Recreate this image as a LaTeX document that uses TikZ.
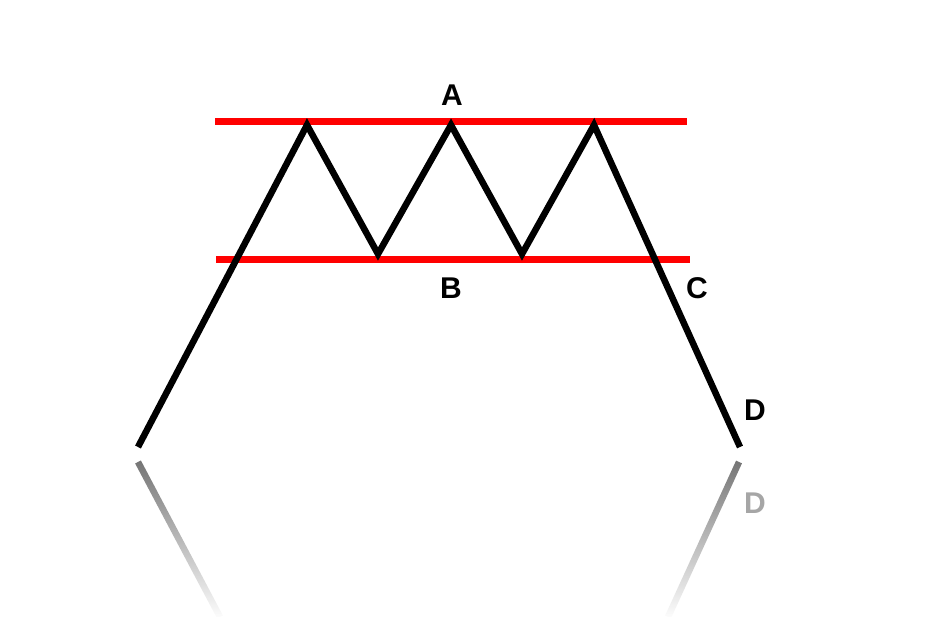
\documentclass[tikz,border=0pt]{standalone}
\usepackage{fontspec}
\setmainfont{Liberation Sans}
\usetikzlibrary{fadings}
\begin{document}
\begin{tikzpicture}[x=1pt,y=-1pt,
  level/.style={draw=red, line width=7pt},
  price/.style={draw=black, line width=6.5pt, line join=miter},
  mirror/.style={draw=black!55, line width=6.5pt, path fading=south},
  lbl/.style={font=\fontsize{30}{30}\selectfont\bfseries, inner sep=0pt}]
\useasboundingbox (0,0) rectangle (937,617);
% level lines
\coordinate (r1) at (215,122); \coordinate (r2) at (687,122);
\coordinate (r3) at (216,260); \coordinate (r4) at (690,260);
\draw[level] (r1) -- (r2);
\draw[level] (r3) -- (r4);
% price path
\coordinate (p0) at (138,447);
\coordinate (p1) at (307,125);
\coordinate (p2) at (378,254);
\coordinate (p3) at (451,125);
\coordinate (p4) at (522,254);
\coordinate (p5) at (594,125);
\coordinate (p6) at (740,447);
\draw[price] (p0) -- (p1) -- (p2) -- (p3) -- (p4) -- (p5) -- (p6);
% reflection
\coordinate (m0) at (138,462); \coordinate (m1) at (220,617);
\coordinate (m2) at (739,462); \coordinate (m3) at (668,617);
\draw[mirror] (m0) -- (m1);
\draw[mirror] (m2) -- (m3);
% labels
\node[lbl] (A) at (452,95) {A};
\node[lbl] (B) at (451,288) {B};
\node[lbl] (C) at (697,288) {C};
\node[lbl] (D) at (755,410) {D};
\node[lbl, text=black!35] (D2) at (755,503) {D};
\end{tikzpicture}
\end{document}
